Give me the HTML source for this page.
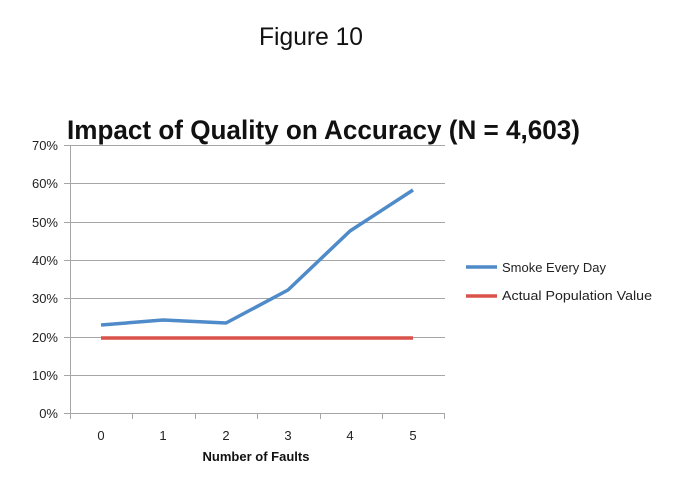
<!DOCTYPE html>
<html><head><meta charset="utf-8"><style>
html,body{margin:0;padding:0;background:#fff;}
svg{display:block;font-family:"Liberation Sans","DejaVu Sans",sans-serif;}
</style></head><body>
<svg width="675" height="490" viewBox="0 0 675 490" xmlns="http://www.w3.org/2000/svg">
<text x="311" y="45" font-size="25" text-anchor="middle" textLength="104" lengthAdjust="spacingAndGlyphs" fill="#111">Figure 10</text>
<text x="67" y="139" font-size="27" font-weight="bold" textLength="513" lengthAdjust="spacingAndGlyphs" fill="#111">Impact of Quality on Accuracy (N = 4,603)</text>
<g stroke="#a6a6a6" stroke-width="1">
<line x1="70" y1="145.5" x2="445" y2="145.5"/>
<line x1="70" y1="183.5" x2="445" y2="183.5"/>
<line x1="70" y1="222.5" x2="445" y2="222.5"/>
<line x1="70" y1="260.5" x2="445" y2="260.5"/>
<line x1="70" y1="298.5" x2="445" y2="298.5"/>
<line x1="70" y1="337.5" x2="445" y2="337.5"/>
<line x1="70" y1="375.5" x2="445" y2="375.5"/>
<line x1="70" y1="413.5" x2="445" y2="413.5"/>
<line x1="70.5" y1="145" x2="70.5" y2="419"/>
<line x1="64" y1="145.5" x2="70" y2="145.5"/><line x1="64" y1="183.5" x2="70" y2="183.5"/><line x1="64" y1="222.5" x2="70" y2="222.5"/><line x1="64" y1="260.5" x2="70" y2="260.5"/><line x1="64" y1="298.5" x2="70" y2="298.5"/><line x1="64" y1="337.5" x2="70" y2="337.5"/><line x1="64" y1="375.5" x2="70" y2="375.5"/><line x1="64" y1="413.5" x2="70" y2="413.5"/>
<line x1="132.5" y1="413" x2="132.5" y2="419"/><line x1="195.5" y1="413" x2="195.5" y2="419"/><line x1="257.5" y1="413" x2="257.5" y2="419"/><line x1="320.5" y1="413" x2="320.5" y2="419"/><line x1="382.5" y1="413" x2="382.5" y2="419"/><line x1="444.5" y1="413" x2="444.5" y2="419"/>
</g>
<g font-size="13" fill="#222" text-anchor="end">
<text x="58" y="150">70%</text><text x="58" y="188">60%</text><text x="58" y="227">50%</text><text x="58" y="265">40%</text><text x="58" y="303">30%</text><text x="58" y="342">20%</text><text x="58" y="380">10%</text><text x="58" y="418">0%</text>
</g>
<g font-size="13" fill="#222" text-anchor="middle">
<text x="101" y="440">0</text><text x="163" y="440">1</text><text x="226" y="440">2</text><text x="288" y="440">3</text><text x="350" y="440">4</text><text x="413" y="440">5</text>
</g>
<text x="256" y="461" font-size="13" font-weight="bold" text-anchor="middle" fill="#111">Number of Faults</text>
<polyline points="101,338 413,338" fill="none" stroke="#d9534a" stroke-width="3.5"/>
<polyline points="101,325 163,320 226,323 288,290 350,231 413,190" fill="none" stroke="#4f8ac9" stroke-width="3.5" stroke-linejoin="round"/>
<line x1="466" y1="267" x2="497" y2="267" stroke="#4f8ac9" stroke-width="3.5"/>
<line x1="466" y1="296" x2="497" y2="296" stroke="#d9534a" stroke-width="3.5"/>
<g font-size="13" fill="#222">
<text x="502" y="272" textLength="104" lengthAdjust="spacingAndGlyphs">Smoke Every Day</text>
<text x="502" y="300" textLength="150" lengthAdjust="spacingAndGlyphs">Actual Population Value</text>
</g>
</svg>
</body></html>
